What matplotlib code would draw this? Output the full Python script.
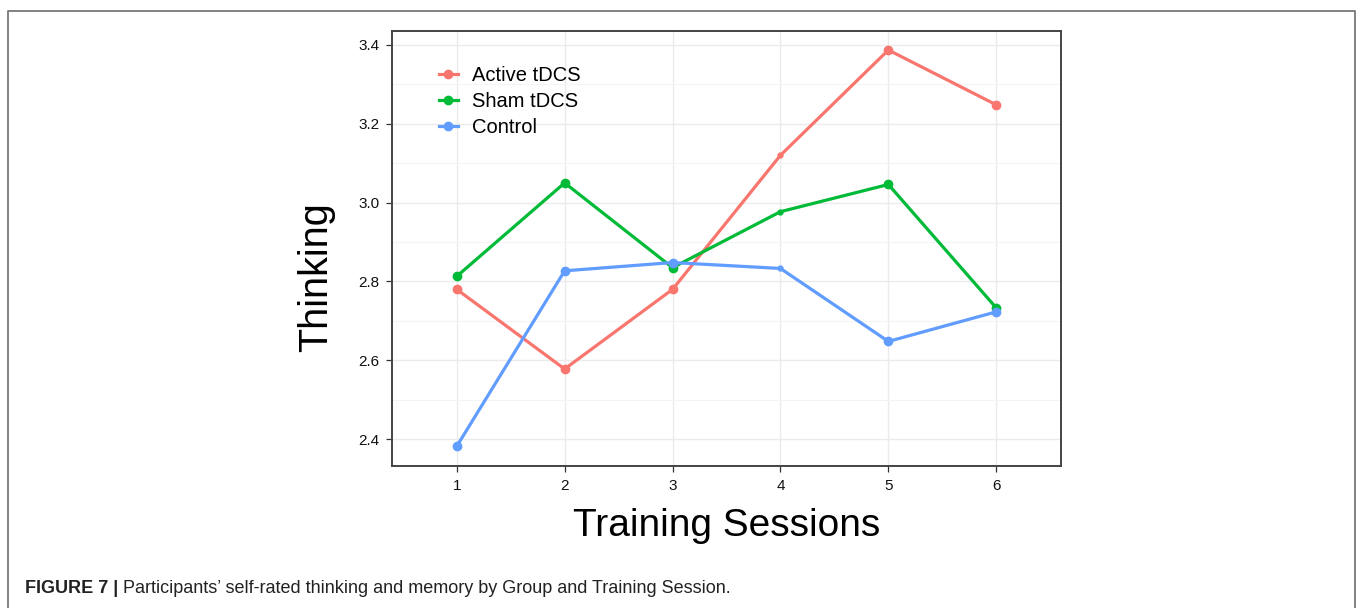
import numpy as np
import matplotlib
matplotlib.use("Agg")
import matplotlib.pyplot as plt
from matplotlib.lines import Line2D

plt.rcParams['font.family'] = ['Liberation Sans', 'DejaVu Sans']

sessions = [1, 2, 3, 4, 5, 6]
active = [2.780, 2.578, 2.780, 3.120, 3.387, 3.248]
sham = [2.813, 3.050, 2.835, 2.977, 3.046, 2.733]
control = [2.382, 2.827, 2.848, 2.833, 2.648, 2.723]
groups = ['Active tDCS', 'Sham tDCS', 'Control']
colors = ['#F8766D', '#00BA38', '#619CFF']

W, H = 1358, 608
fig = plt.figure(figsize=(W / 100, H / 100), dpi=100)
ax = fig.add_axes([392 / W, 1 - 466 / H, (1061 - 392) / W, (466 - 30.7) / H])

handles = []
for vals, name, c in zip([active, sham, control], groups, colors):
    ax.plot(sessions, vals, color=c, lw=2.3, solid_capstyle='round', zorder=3)
    ax.plot(sessions, vals, ls='none', marker='o', ms=6, color=c,
            markevery=[0, 1, 2, 4, 5], zorder=3)
    ax.plot(sessions, vals, ls='none', marker='o', ms=3.5, color=c,
            markevery=[3], zorder=3)
    handles.append(Line2D([], [], color=c, lw=2.3, marker='o', ms=6))

ax.set_xlim(0.4, 6.6)
ax.set_ylim(2.332, 3.436)
ax.set_xticks(sessions)
ax.set_yticks([2.4, 2.6, 2.8, 3.0, 3.2, 3.4])
ax.set_yticklabels(['2.4', '2.6', '2.8', '3.0', '3.2', '3.4'])
ax.set_yticks([2.5, 2.7, 2.9, 3.1, 3.3], minor=True)
ax.grid(which='major', color='#ebebeb', lw=1.0, zorder=0)
ax.grid(which='minor', axis='y', color='#f4f4f4', lw=0.8, zorder=0)
ax.set_axisbelow(True)
ax.tick_params(which='major', length=4, width=0.9, color='#333333',
               labelsize=11, labelcolor='#111111', pad=5)
ax.tick_params(which='minor', length=0)
for s in ax.spines.values():
    s.set_color('#444444')
    s.set_linewidth(1.4)

ax.set_xlabel('Training Sessions', fontsize=28, labelpad=11)
ax.set_ylabel('Thinking', fontsize=28.5)
ax.yaxis.set_label_coords(-0.085, 0.434)

leg = ax.legend(handles, groups, loc='upper left', bbox_to_anchor=(0.07, 0.919),
                frameon=False, fontsize=14.5, handlelength=0.95, handletextpad=0.7,
                labelspacing=0.36, borderaxespad=0, borderpad=0)

# outer frame of the figure panel
fig.add_artist(Line2D([8 / W, 8 / W, 1355 / W, 1355 / W],
                      [0, 1 - 11 / H, 1 - 11 / H, 0],
                      transform=fig.transFigure, color='#777777', lw=1.3))

cap_y = 1 - 593 / H
t1 = fig.text(25 / W, cap_y, 'FIGURE 7 |', fontsize=13, fontweight='bold',
              color='#222222', va='baseline')
fig.canvas.draw()
x_end = t1.get_window_extent().x1
fig.text((x_end + 5) / W, cap_y,
         "Participants\u2019 self-rated thinking and memory by Group and Training Session.",
         fontsize=13, color='#222222', va='baseline')

fig.savefig('out.png', dpi=100, facecolor='white')
